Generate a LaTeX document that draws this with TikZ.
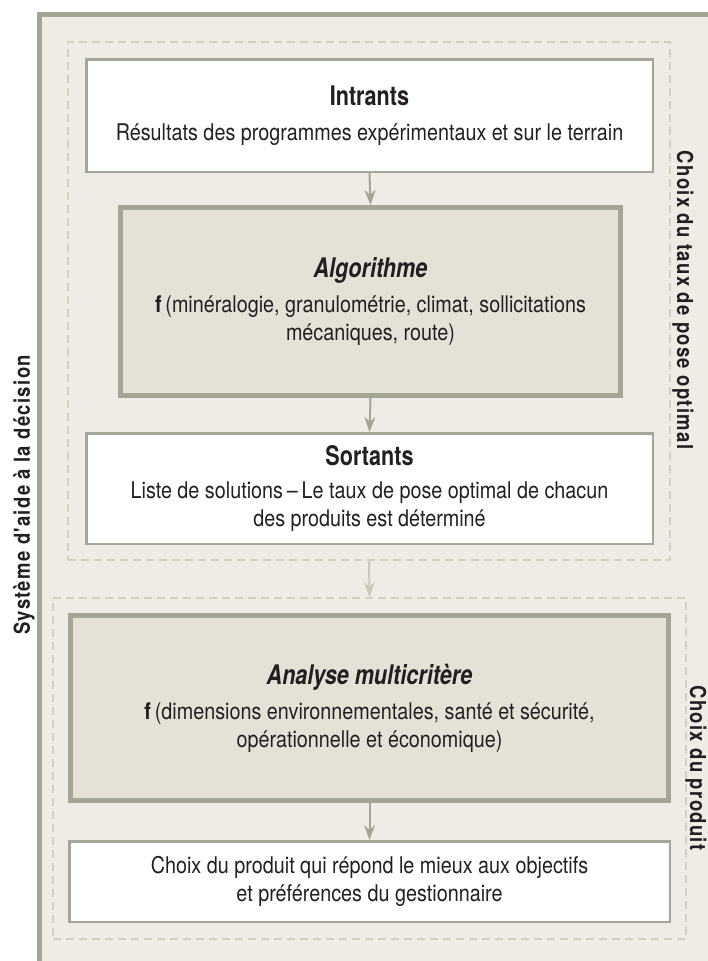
\documentclass[tikz,border=0pt]{standalone}
\usepackage{fontspec}
\setmainfont{TeX Gyre Heros}[FakeStretch=0.86]
\newfontfamily\headfont{TeX Gyre Heros}[FakeStretch=0.8]
\newfontfamily\sidefont{TeX Gyre Heros}[FakeStretch=0.84,LetterSpace=6]
\usetikzlibrary{arrows.meta}
\definecolor{panel}{HTML}{EFECE5}
\definecolor{rulegray}{HTML}{A4A597}
\definecolor{dashgray}{HTML}{D6CEBE}
\definecolor{algofill}{HTML}{E5E1D7}
\definecolor{lightarrow}{HTML}{CFC8B8}
\definecolor{ink}{HTML}{231F20}
\newcommand\headtxt[1]{{\headfont\fontsize{27}{30}\selectfont\bfseries #1}}
\newcommand\headit[1]{{\headfont\fontsize{27}{30}\selectfont\bfseries\itshape #1}}
\begin{document}
\begin{tikzpicture}[x=1pt,y=-1pt,
  thinbox/.style={draw=rulegray,line width=2.5pt,fill=white,align=center,inner sep=0pt,text=ink,font=\fontsize{23}{28}\selectfont},
  thickbox/.style={draw=rulegray,line width=5pt,fill=algofill,align=center,inner sep=0pt,text=ink,font=\fontsize{23}{28}\selectfont},
  dashbox/.style={draw=dashgray,line width=2pt,dash pattern=on 8pt off 5pt,inner sep=0pt},
  sidelabel/.style={font=\sidefont\fontsize{22}{24}\selectfont\bfseries,text=ink},
  flow/.style={draw=rulegray,line width=2pt,-{Stealth[length=15pt,width=11pt]}}]
\useasboundingbox (0,0) rectangle (708,961);
% panneau de fond
\fill[panel] (37,12) rectangle (708,961);
\draw[rulegray,line width=5pt] (39.5,961) -- (39.5,14.5) -- (708,14.5);
% zones en pointille
\node[dashbox,minimum width=602pt,minimum height=518pt] (taux) at (369,301) {};
\node[dashbox,minimum width=633pt,minimum height=341pt] (produit) at (369.5,768.5) {};
% boites
\node[thinbox,minimum width=566.5pt,minimum height=112.5pt] (intrants) at (369.5,115.5)
  {\headtxt{Intrants}\\[7pt] Résultats des programmes expérimentaux et sur le terrain};
\node[thickbox,minimum width=500pt,minimum height=188pt] (algo) at (370.5,301.5)
  {\headit{Algorithme}\\[7pt] \textbf{f}\,(minéralogie, granulométrie, climat, sollicitations\\ mécaniques, route)};
\node[thinbox,minimum width=566.5pt,minimum height=110.5pt] (sortants) at (369.5,488.5)
  {\headtxt{Sortants}\\[5pt] Liste de solutions\,–\,Le taux de pose optimal de chacun\\ des produits est déterminé};
\node[thickbox,minimum width=598pt,minimum height=185pt] (analyse) at (369.5,708)
  {\headit{Analyse multicritère}\\[7pt] \textbf{f}\,(dimensions environnementales, santé et sécurité,\\ opérationnelle et économique)};
\node[thinbox,minimum width=600.5pt,minimum height=80.5pt] (choix) at (369.5,881.5)
  {Choix du produit qui répond le mieux aux objectifs\\ et préférences du gestionnaire};
% fleches
\draw[flow] (intrants.south) -- (algo.north);
\draw[flow] (algo.south) -- (sortants.north);
\draw[flow,draw=lightarrow] (taux.south) -- (produit.north);
\draw[flow] (analyse.south) -- (choix.north);
% etiquettes laterales
\node[sidelabel,rotate=-90] (lbltaux) at (683,300) {Choix du taux de pose optimal};
\node[sidelabel,rotate=-90] (lblproduit) at (696,768) {Choix du produit};
\node[sidelabel,rotate=90] (lblsysteme) at (24,495) {Système d'aide à la décision};
\end{tikzpicture}
\end{document}
